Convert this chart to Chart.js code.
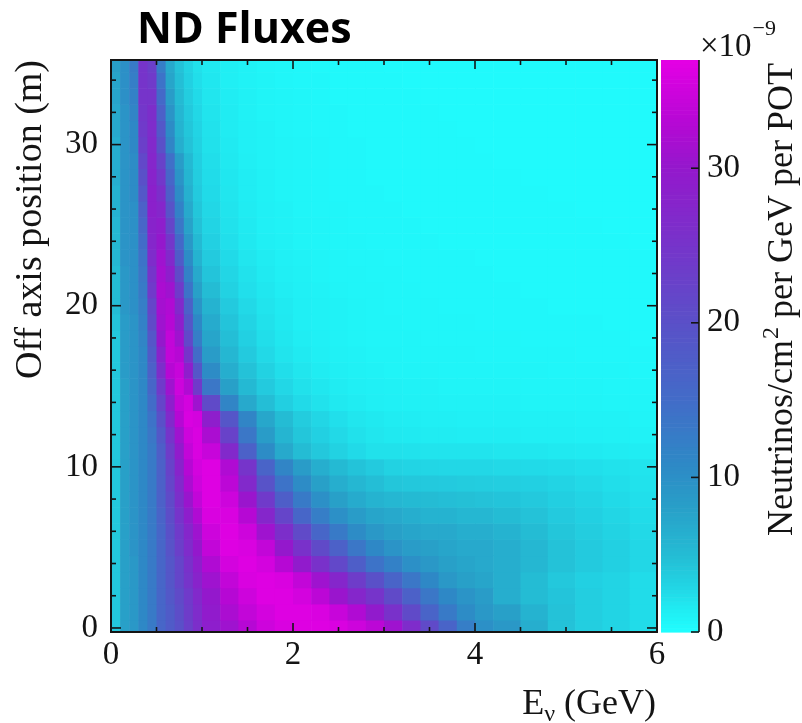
<!DOCTYPE html>
<html>
<head>
<meta charset="utf-8">
<script src="https://cdn.jsdelivr.net/npm/chart.js@4.4.1/dist/chart.umd.min.js"></script>
<style>
  html, body { margin: 0; padding: 0; background: #fff; }
  #wrap { position: relative; width: 802px; height: 723px; }
</style>
</head>
<body>
<div id="wrap"><canvas id="flux"></canvas></div>
<script>
// Energy bin edges (GeV) and off-axis row centres (m)
const energyEdges = [0, 0.1, 0.2, 0.3, 0.4, 0.5, 0.6, 0.7, 0.8, 0.9, 1.0,
  1.2, 1.4, 1.6, 1.8, 2.0, 2.2, 2.4, 2.6, 2.8, 3.0,
  3.2, 3.4, 3.6, 3.8, 4.0, 4.2, 4.5, 4.8, 5.1, 5.4, 5.7, 6.0];
const offAxis = [0, 1, 2, 3, 4, 5, 6, 7, 8, 9, 10, 11, 12, 13, 14, 15, 16, 17,
  18, 19, 20, 21, 22, 23, 24, 25, 26, 27, 28, 29, 30, 31, 32, 33, 34, 35];
const rowHalf = 0.5;

// Flux in units of 1e-9 neutrinos/cm2/GeV/POT, one row per off-axis position
const flux = [
  [4, 8, 9, 11, 13, 16, 18, 20, 23, 26, 29, 31, 33, 35, 36, 36.5, 36.5, 36, 35, 33.5, 31, 26.5, 21, 16.5, 12.5, 10, 9, 6.5, 4.5, 3.5, 3, 2.5],
  [4, 8, 9, 11, 13, 16, 18, 20.5, 23.5, 26.5, 29.5, 32, 34, 35.5, 36.5, 36.5, 36, 34.5, 32.5, 29.5, 25.5, 21, 16.5, 13, 10.5, 9, 8, 6, 4.5, 3.5, 3, 2.5],
  [4, 8, 9, 11, 13, 16, 18.5, 21, 24, 27, 30, 33, 35, 36.5, 36.5, 35.5, 33.5, 30.5, 27.5, 25, 21, 17, 13.5, 11, 9.5, 8.5, 6.5, 5, 4.3, 3.5, 3, 2.5],
  [4, 8, 9, 11, 13, 16, 19, 22, 25, 28, 31, 34, 36, 36.5, 36, 34, 31, 27.5, 23.5, 20, 16.5, 13.5, 11, 9, 8, 7.5, 6.5, 5, 4, 3.3, 3, 2.5],
  [4, 8, 9, 11, 13, 16, 19, 22, 25.5, 29, 32.5, 35.5, 36.5, 35.5, 33, 29.5, 25.5, 21.5, 17.5, 14, 12, 10, 9, 8, 7.5, 7, 6.5, 5.5, 4.5, 3.8, 3.3, 2.8],
  [4, 8, 9.5, 11, 13, 16, 19.5, 23, 26.5, 30, 34, 36.5, 36, 34, 30, 25.5, 21, 17, 13.5, 11, 9.5, 8.5, 8, 7.5, 7, 7, 6.5, 5.5, 4.5, 3.8, 3.3, 2.8],
  [4, 8, 9.5, 11, 13, 16, 20, 24, 27.5, 31, 35, 36.5, 35, 31, 26, 21, 16, 13, 10.5, 9, 8, 7.5, 7, 7, 6.5, 6.5, 6, 5, 4.2, 3.6, 3.1, 2.7],
  [4, 8, 9.5, 11, 13, 16.5, 20.5, 25, 29, 32.5, 36, 36, 33, 27.5, 22, 16, 12.5, 10, 8.5, 7.5, 7, 6.5, 6, 6, 5.5, 5.5, 5, 4.5, 3.8, 3.3, 2.9, 2.5],
  [4, 8, 9.5, 11, 13, 17, 21, 26, 30.5, 34, 36.5, 35, 30.5, 24, 17.5, 13, 10, 8, 6.8, 6, 5.5, 5.2, 5, 4.8, 4.7, 4.5, 4.3, 3.9, 3.4, 3, 2.6, 2.3],
  [4, 8, 9.5, 11, 13, 17, 22, 27, 32, 35, 36.5, 33.5, 27, 19.5, 14, 10.5, 8, 6.5, 5.5, 4.8, 4.2, 4, 3.9, 3.8, 3.7, 3.6, 3.5, 3.3, 3, 2.7, 2.4, 2.1],
  [4, 8, 9.5, 11, 13, 17, 22.5, 28, 33, 35.5, 36.5, 32.5, 25, 16.5, 11.5, 8.5, 6.5, 5.2, 4.4, 3.8, 3.2, 3, 2.9, 2.8, 2.8, 2.8, 2.7, 2.6, 2.5, 2.3, 2.1, 2],
  [4, 8, 9.5, 11, 13, 17.5, 23.5, 29.5, 34, 36, 34.5, 27, 17, 10.5, 7, 5, 4, 3.2, 2.6, 2.2, 2.2, 2.1, 2, 2, 2, 2, 1.9, 1.8, 1.7, 1.6, 1.5, 1.4],
  [4, 8, 9.5, 11, 13.5, 18.5, 25, 31, 35, 36, 32, 22.5, 13.5, 8.5, 5.8, 4.2, 3.3, 2.7, 2.2, 1.9, 1.7, 1.6, 1.5, 1.5, 1.4, 1.4, 1.4, 1.3, 1.3, 1.2, 1.1, 1],
  [4, 8, 9.5, 11, 14, 20, 27, 33, 36, 35.5, 29, 19, 11.5, 7.2, 5, 3.7, 2.9, 2.3, 1.9, 1.7, 1.5, 1.4, 1.3, 1.3, 1.2, 1.2, 1.2, 1.1, 1.1, 1, 1, 0.9],
  [4, 8, 9.5, 11, 15, 22, 29, 34, 35.5, 31, 21, 11.5, 7, 4.8, 3.4, 2.6, 2.1, 1.7, 1.5, 1.3, 1.2, 1.1, 1.1, 1, 1, 1, 1, 0.9, 0.9, 0.9, 0.8, 0.8],
  [4, 8, 9.5, 11, 16, 24, 31, 35, 32.5, 24, 13.5, 8, 5.3, 3.8, 2.8, 2.2, 1.8, 1.5, 1.3, 1.2, 1.1, 1, 1, 0.9, 0.9, 0.9, 0.9, 0.8, 0.8, 0.8, 0.7, 0.7],
  [4, 8.5, 9.5, 11, 17, 26, 33, 34.5, 29, 19, 10.5, 6.5, 4.5, 3.2, 2.4, 1.9, 1.5, 1.3, 1.1, 1, 0.9, 0.9, 0.9, 0.8, 0.8, 0.8, 0.8, 0.8, 0.7, 0.7, 0.7, 0.6],
  [4, 8.5, 9.5, 11, 18, 28, 34, 33, 25, 15, 8.5, 5.5, 3.8, 2.7, 2, 1.6, 1.3, 1.1, 1, 0.9, 0.9, 0.8, 0.8, 0.8, 0.8, 0.7, 0.7, 0.7, 0.7, 0.6, 0.6, 0.6],
  [4, 8.5, 9.5, 11.5, 19, 30, 34, 31, 21.5, 12.5, 7.5, 4.8, 3.3, 2.4, 1.8, 1.4, 1.2, 1, 0.9, 0.8, 0.8, 0.8, 0.7, 0.7, 0.7, 0.7, 0.7, 0.6, 0.6, 0.6, 0.6, 0.5],
  [4.5, 8.5, 9.5, 12, 21, 31, 33, 29, 19, 11, 6.8, 4.3, 3, 2.2, 1.7, 1.3, 1.1, 1, 0.9, 0.8, 0.8, 0.7, 0.7, 0.7, 0.7, 0.6, 0.6, 0.6, 0.6, 0.6, 0.5, 0.5],
  [5, 9, 10, 12.5, 22, 31.5, 32.5, 27, 17, 9.5, 6, 3.8, 2.7, 2, 1.6, 1.3, 1.1, 1, 0.9, 0.8, 0.7, 0.7, 0.7, 0.6, 0.6, 0.6, 0.6, 0.6, 0.5, 0.5, 0.5, 0.5],
  [5, 9, 10, 13, 24, 32, 31, 24, 14, 8, 5, 3.2, 2.3, 1.8, 1.4, 1.2, 1, 0.9, 0.8, 0.8, 0.7, 0.7, 0.6, 0.6, 0.6, 0.6, 0.6, 0.5, 0.5, 0.5, 0.5, 0.5],
  [5, 9, 10, 13.5, 25, 31.5, 29, 21, 12, 7, 4.3, 2.9, 2.1, 1.6, 1.3, 1.1, 0.9, 0.8, 0.8, 0.7, 0.7, 0.6, 0.6, 0.6, 0.6, 0.6, 0.5, 0.5, 0.5, 0.5, 0.5, 0.5],
  [5.5, 9.5, 10, 14, 26.5, 31, 27, 18, 10.5, 6, 3.8, 2.6, 1.9, 1.5, 1.2, 1, 0.9, 0.8, 0.7, 0.7, 0.6, 0.6, 0.6, 0.6, 0.6, 0.5, 0.5, 0.5, 0.5, 0.5, 0.5, 0.5],
  [5.5, 9.5, 10, 15, 27.5, 30, 24.5, 15.5, 9, 5.2, 3.3, 2.3, 1.7, 1.3, 1.1, 0.9, 0.8, 0.7, 0.7, 0.6, 0.6, 0.6, 0.6, 0.5, 0.5, 0.5, 0.5, 0.5, 0.5, 0.5, 0.5, 0.4],
  [5.5, 9.5, 10, 16, 28, 29, 22, 13.5, 7.8, 4.6, 3, 2.1, 1.6, 1.2, 1, 0.9, 0.8, 0.7, 0.6, 0.6, 0.6, 0.6, 0.5, 0.5, 0.5, 0.5, 0.5, 0.5, 0.5, 0.5, 0.4, 0.4],
  [6, 9.5, 10, 17, 28.5, 27.5, 19.5, 12, 7, 4.2, 2.8, 2, 1.5, 1.2, 1, 0.8, 0.7, 0.7, 0.6, 0.6, 0.6, 0.5, 0.5, 0.5, 0.5, 0.5, 0.5, 0.5, 0.5, 0.4, 0.4, 0.4],
  [6, 9.5, 10.5, 18.5, 28.5, 26, 17.5, 10.5, 6.3, 3.8, 2.6, 1.9, 1.4, 1.1, 0.9, 0.8, 0.7, 0.6, 0.6, 0.6, 0.5, 0.5, 0.5, 0.5, 0.5, 0.5, 0.5, 0.5, 0.4, 0.4, 0.4, 0.4],
  [6.5, 9.5, 10.5, 20, 28, 24.5, 16, 9.5, 5.8, 3.6, 2.5, 1.8, 1.4, 1.1, 0.9, 0.8, 0.7, 0.6, 0.6, 0.5, 0.5, 0.5, 0.5, 0.5, 0.5, 0.5, 0.5, 0.4, 0.4, 0.4, 0.4, 0.4],
  [6.5, 9.5, 10.5, 21.5, 27.5, 22.5, 14.5, 8.5, 5.3, 3.4, 2.4, 1.7, 1.3, 1, 0.9, 0.8, 0.7, 0.6, 0.6, 0.5, 0.5, 0.5, 0.5, 0.5, 0.5, 0.5, 0.4, 0.4, 0.4, 0.4, 0.4, 0.4],
  [6.5, 9.5, 11, 23, 27, 20, 11.5, 6.5, 4.5, 3.2, 2.2, 1.6, 1.2, 1, 0.9, 0.8, 0.7, 0.6, 0.6, 0.5, 0.5, 0.5, 0.5, 0.5, 0.5, 0.4, 0.4, 0.4, 0.4, 0.4, 0.4, 0.4],
  [7, 9.5, 11, 24, 26.5, 18.5, 10.5, 6, 4.2, 3, 2.1, 1.5, 1.2, 1, 0.8, 0.7, 0.6, 0.6, 0.5, 0.5, 0.5, 0.5, 0.5, 0.5, 0.4, 0.4, 0.4, 0.4, 0.4, 0.4, 0.4, 0.4],
  [7, 9.5, 11.5, 24.5, 26, 17, 9.5, 5.6, 3.9, 2.8, 2, 1.5, 1.1, 0.9, 0.8, 0.7, 0.6, 0.6, 0.5, 0.5, 0.5, 0.5, 0.5, 0.4, 0.4, 0.4, 0.4, 0.4, 0.4, 0.4, 0.4, 0.4],
  [7.5, 10, 12, 25, 25, 15.5, 8.5, 5.2, 3.6, 2.6, 1.9, 1.4, 1.1, 0.9, 0.8, 0.7, 0.6, 0.5, 0.5, 0.5, 0.5, 0.5, 0.4, 0.4, 0.4, 0.4, 0.4, 0.4, 0.4, 0.4, 0.4, 0.4],
  [7.5, 10, 12.5, 25, 24, 14, 7.5, 4.8, 3.3, 2.4, 1.8, 1.3, 1, 0.9, 0.7, 0.6, 0.6, 0.5, 0.5, 0.5, 0.5, 0.4, 0.4, 0.4, 0.4, 0.4, 0.4, 0.4, 0.4, 0.4, 0.4, 0.4],
  [8, 10, 13, 25, 23, 12.5, 7, 4.5, 3.1, 2.2, 1.7, 1.3, 1, 0.8, 0.7, 0.6, 0.5, 0.5, 0.5, 0.5, 0.4, 0.4, 0.4, 0.4, 0.4, 0.4, 0.4, 0.4, 0.4, 0.4, 0.4, 0.4]
];

const energyTicks = [0, 2, 4, 6];
const offAxisTicks = [0, 10, 20, 30];
const fluxTicks = [0, 10, 20, 30];
const fluxMax = 37;

// cyan -> steel blue -> violet -> magenta
const palette = [
  [0, [32, 255, 255]], [1.5, [32, 236, 242]], [3, [34, 212, 228]],
  [5, [36, 188, 212]], [8, [40, 160, 200]], [11, [46, 136, 198]],
  [15, [66, 108, 200]], [20, [90, 80, 200]], [25, [118, 52, 202]],
  [30, [148, 24, 204]], [33, [182, 8, 212]], [37, [228, 0, 228]]
];

function colorFor(v) {
  if (v <= palette[0][0]) return 'rgb(' + palette[0][1].join(',') + ')';
  for (let i = 1; i < palette.length; i++) {
    const [v1, c1] = palette[i];
    const [v0, c0] = palette[i - 1];
    if (v <= v1) {
      const t = (v - v0) / (v1 - v0);
      const c = c0.map((a, k) => Math.round(a + (c1[k] - a) * t));
      return 'rgb(' + c.join(',') + ')';
    }
  }
  return 'rgb(' + palette[palette.length - 1][1].join(',') + ')';
}

const cells = [];
offAxis.forEach((pos, r) => {
  flux[r].forEach((v, c) => {
    cells.push({
      x: (energyEdges[c] + energyEdges[c + 1]) / 2, y: pos,
      x0: energyEdges[c], x1: energyEdges[c + 1],
      y0: pos - rowHalf, y1: pos + rowHalf, v: v
    });
  });
});

const serif = '"Liberation Serif", "Times New Roman", serif';
const ink = '#141414';

const heatmap = {
  id: 'heatmap',
  beforeDatasetsDraw(chart) {
    const {ctx, chartArea: a, scales: {x, y}} = chart;
    ctx.save();
    ctx.beginPath();
    ctx.rect(a.left, a.top, a.width, a.height);
    ctx.clip();
    chart.data.datasets[0].data.forEach(c => {
      const px0 = x.getPixelForValue(c.x0), px1 = x.getPixelForValue(c.x1);
      const py0 = y.getPixelForValue(c.y0), py1 = y.getPixelForValue(c.y1);
      ctx.fillStyle = colorFor(c.v);
      ctx.fillRect(px0, py1, px1 - px0 + 0.6, py0 - py1 + 0.6);
    });
    ctx.restore();
  }
};

function tick(ctx, x0, y0, x1, y1) {
  ctx.beginPath();
  ctx.moveTo(x0, y0);
  ctx.lineTo(x1, y1);
  ctx.stroke();
}

// keep the plot frame where the axes say, not where edge labels push it
function noEdgePadding(s) {
  s.paddingTop = 0;
  s.paddingBottom = 0;
  s.paddingLeft = 0;
  s.paddingRight = 0;
}

const decorations = {
  id: 'decorations',
  afterDraw(chart) {
    const {ctx, chartArea: a, scales: {x, y, z}} = chart;
    ctx.save();

    // frame ticks, pointing inward on all four sides
    ctx.strokeStyle = ink;
    ctx.lineWidth = 1.6;
    for (let e = 0; e <= 6.001; e += 0.5) {
      const px = x.getPixelForValue(e);
      const len = energyTicks.includes(e) ? 9 : 5;
      tick(ctx, px, a.bottom, px, a.bottom - len);
      tick(ctx, px, a.top, px, a.top + len);
    }
    for (let p = 0; p <= 35; p += 2) {
      const py = y.getPixelForValue(p);
      const len = offAxisTicks.includes(p) ? 10 : 5;
      tick(ctx, a.left, py, a.left + len, py);
      tick(ctx, a.right, py, a.right - len, py);
    }
    ctx.lineWidth = 2;
    ctx.strokeRect(a.left, a.top, a.width, a.height);

    // colour bar
    const barL = a.right + 4, barR = a.right + 42;
    for (let v = 0; v < fluxMax; v += 0.25) {
      const yb = z.getPixelForValue(v), yt = z.getPixelForValue(Math.min(v + 0.25, fluxMax));
      ctx.fillStyle = colorFor(v + 0.125);
      ctx.fillRect(barL, yt, barR - barL, yb - yt + 0.6);
    }
    ctx.strokeStyle = ink;
    ctx.lineWidth = 1.6;
    tick(ctx, barR, z.getPixelForValue(0), barR, z.getPixelForValue(fluxMax));
    fluxTicks.forEach(v => {
      const py = z.getPixelForValue(v);
      tick(ctx, barR, py, barR - 8, py);
    });

    // x axis title with subscript
    ctx.fillStyle = ink;
    ctx.textBaseline = 'alphabetic';
    ctx.textAlign = 'left';
    const big = '36px ' + serif, small = '24px ' + serif;
    ctx.font = big;
    const wE = ctx.measureText('E').width;
    const wRest = ctx.measureText(' (GeV)').width;
    ctx.font = small;
    const wNu = ctx.measureText('\u03bd').width;
    const xEnd = a.right - 1;
    const tx = xEnd - (wE + wNu + wRest);
    const base = 714;
    ctx.font = big;
    ctx.fillText('E', tx, base);
    ctx.font = small;
    ctx.fillText('\u03bd', tx + wE, base + 7);
    ctx.font = big;
    ctx.fillText(' (GeV)', tx + wE + wNu, base);

    // colour bar title, reading upward
    ctx.save();
    ctx.translate(792, a.top + 3);
    ctx.rotate(-Math.PI / 2);
    const t1 = 'Neutrinos/cm', t2 = '2', t3 = ' per GeV per POT';
    const cbFont = '36px ' + serif, supFont = '24px ' + serif;
    ctx.font = cbFont;
    const w1 = ctx.measureText(t1).width;
    const w3 = ctx.measureText(t3).width;
    ctx.font = supFont;
    const w2 = ctx.measureText(t2).width;
    const start = -(w1 + w2 + w3 + 1);
    ctx.font = cbFont;
    ctx.fillText(t1, start, 0);
    ctx.font = supFont;
    ctx.fillText(t2, start + w1 + 1, -14);
    ctx.font = cbFont;
    ctx.fillText(t3, start + w1 + w2 + 1, 0);
    ctx.restore();

    // exponent above the colour bar
    ctx.font = '33px ' + serif;
    ctx.fillText('\u00d710', barR + 1, 56);
    const wx = ctx.measureText('\u00d710').width;
    ctx.font = '22px ' + serif;
    ctx.fillText('\u22129', barR + 2 + wx, 35);

    // title
    ctx.font = '700 43px "Open Sans", sans-serif';
    ctx.fillStyle = '#000';
    ctx.fillText('ND Fluxes', 137, 43);

    ctx.restore();
  }
};

new Chart(document.getElementById('flux'), {
  type: 'scatter',
  data: {
    datasets: [{
      data: cells,
      pointRadius: 0,
      pointHoverRadius: 0,
      showLine: false
    }]
  },
  options: {
    responsive: true,
    maintainAspectRatio: false,
    animation: false,
    events: [],
    layout: { padding: { top: 60, right: 0, bottom: 0, left: 0 } },
    plugins: { legend: { display: false }, tooltip: { enabled: false } },
    scales: {
      x: {
        type: 'linear',
        position: 'bottom',
        min: 0,
        max: 6,
        grid: { display: false, drawTicks: false },
        border: { display: false },
        afterBuildTicks: s => { s.ticks = energyTicks.map(v => ({ value: v })); },
        afterFit: s => { s.height = 91; noEdgePadding(s); },
        ticks: { font: { family: serif, size: 33 }, color: ink, padding: 4, maxRotation: 0 }
      },
      y: {
        type: 'linear',
        position: 'left',
        min: -0.25,
        max: 35.25,
        grid: { display: false, drawTicks: false },
        border: { display: false },
        afterBuildTicks: s => { s.ticks = offAxisTicks.map(v => ({ value: v })); },
        afterFit: s => { s.width = 111; noEdgePadding(s); },
        ticks: { font: { family: serif, size: 33 }, color: ink, padding: 13 },
        title: {
          display: true,
          text: 'Off axis position (m)',
          align: 'end',
          color: ink,
          font: { family: serif, size: 38 },
          padding: { top: 8, bottom: 0 }
        }
      },
      z: {
        type: 'linear',
        position: 'right',
        min: 0,
        max: fluxMax,
        grid: { display: false, drawTicks: false },
        border: { display: false },
        afterBuildTicks: s => { s.ticks = fluxTicks.map(v => ({ value: v })); },
        afterFit: s => { s.width = 145; noEdgePadding(s); },
        ticks: { font: { family: serif, size: 33 }, color: ink, padding: 50 }
      }
    }
  },
  plugins: [heatmap, decorations]
});
</script>
</body>
</html>
